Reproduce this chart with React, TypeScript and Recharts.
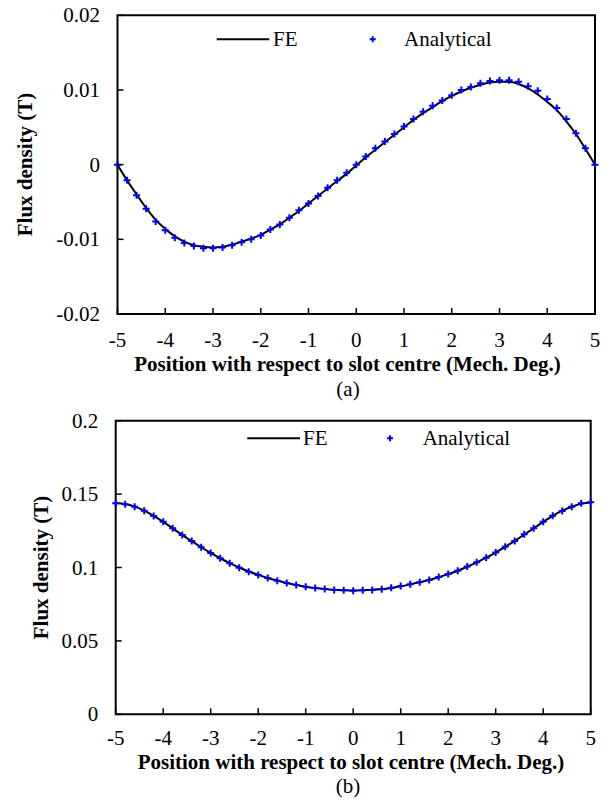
import { ComposedChart, Line, XAxis, YAxis, ReferenceArea } from 'recharts';

const FONT = '"Liberation Serif", "Times New Roman", serif';

// position (mech. deg.)
const positions = [
  -5, -4.8, -4.6, -4.4, -4.2, -4, -3.8, -3.6, -3.4, -3.2, -3, -2.8, -2.6, -2.4, -2.2, -2, -1.8, -1.6, -1.4, -1.2,
  -1, -0.8, -0.6, -0.4, -0.2, 0, 0.2, 0.4, 0.6, 0.8, 1, 1.2, 1.4, 1.6, 1.8, 2, 2.2, 2.4, 2.6, 2.8,
  3, 3.2, 3.4, 3.6, 3.8, 4, 4.2, 4.4, 4.6, 4.8, 5,
];

// (a)
const feA = [
  0, -0.0021, -0.004, -0.0058, -0.0074, -0.0086, -0.0096, -0.0103, -0.0108, -0.011,
  -0.0111, -0.011, -0.0107, -0.0103, -0.0099, -0.0094, -0.0087, -0.008, -0.0071, -0.0062,
  -0.0052, -0.0042, -0.0032, -0.0022, -0.0012, -0.0001,
  0.001, 0.002, 0.003, 0.004, 0.005, 0.006, 0.0069, 0.0077, 0.0085, 0.0092,
  0.0098, 0.0103, 0.0107, 0.011, 0.0111, 0.0111, 0.0108, 0.0102, 0.0094, 0.0084,
  0.0073, 0.0058, 0.0041, 0.0021, 0,
];
const analyticalA = [
  0, -0.0021, -0.0041, -0.0059, -0.0076, -0.0088, -0.0098, -0.0105, -0.0109, -0.0112,
  -0.0112, -0.0111, -0.0108, -0.0104, -0.01, -0.0095, -0.0087, -0.008, -0.0071, -0.0061,
  -0.0052, -0.0042, -0.0031, -0.0021, -0.0011, 0,
  0.0011, 0.0022, 0.0031, 0.0041, 0.0051, 0.0061, 0.0071, 0.0079, 0.0086, 0.0093,
  0.01, 0.0104, 0.0109, 0.0112, 0.0113, 0.0113, 0.0111, 0.0105, 0.0099, 0.0088,
  0.0076, 0.0061, 0.0042, 0.0022, 0,
];

// (b)
const feB = [
  0.144, 0.1433, 0.1415, 0.1388, 0.1352, 0.1311, 0.1267, 0.1222, 0.118, 0.1138,
  0.1099, 0.1063, 0.103, 0.1, 0.0973, 0.095, 0.0929, 0.0911, 0.0895, 0.0881,
  0.0869, 0.086, 0.0853, 0.0848, 0.0845, 0.0843,
  0.0845, 0.0848, 0.0853, 0.0861, 0.0872, 0.0885, 0.0899, 0.0915, 0.0934, 0.0955,
  0.0978, 0.1005, 0.1035, 0.1067, 0.1102, 0.1141, 0.1181, 0.1224, 0.1267, 0.1311,
  0.1352, 0.1387, 0.1414, 0.1434, 0.1442,
];
const analyticalB = [
  0.1437, 0.1431, 0.1414, 0.1387, 0.1351, 0.1312, 0.1267, 0.1221, 0.1181, 0.1138,
  0.1099, 0.1063, 0.1029, 0.0999, 0.0971, 0.0949, 0.0928, 0.091, 0.0894, 0.0881,
  0.0869, 0.086, 0.0854, 0.0847, 0.0845, 0.0842,
  0.0845, 0.0847, 0.0851, 0.0862, 0.0874, 0.0886, 0.0899, 0.0915, 0.0935, 0.0956,
  0.0978, 0.1006, 0.1035, 0.1067, 0.1103, 0.1142, 0.1181, 0.1226, 0.1267, 0.1312,
  0.1353, 0.1385, 0.1414, 0.1437, 0.1444,
];

const xTicks = [-5, -4, -3, -2, -1, 0, 1, 2, 3, 4, 5];
const yTicksA = [-0.02, -0.01, 0, 0.01, 0.02];
const yTicksB = [0, 0.05, 0.1, 0.15, 0.2];

const X_TITLE = 'Position with respect to slot centre (Mech. Deg.)';
const Y_TITLE = 'Flux density (T)';

const cross = (cx: number, cy: number, h: number) =>
  `M${cx - h},${cy}H${cx + h}M${cx},${cy - h}V${cy + h}`;

// biome-ignore lint/suspicious/noExplicitAny: recharts dot props
const renderCross = (p: any) => (
  <path key={`c${p.index}`} d={cross(p.cx, p.cy, 3.5)} stroke="#0000ff" strokeWidth={2} fill="none" />
);

// ticks point inward, like the original
// biome-ignore lint/suspicious/noExplicitAny: recharts tick props
const XTick = (p: any) => (
  <g>
    <line x1={p.x} y1={p.y} x2={p.x} y2={p.y - 6} stroke="#000" strokeWidth={1.5} />
    <text x={p.x} y={p.y + p.labelDy} textAnchor="middle" fontSize={21} fontFamily={FONT} fill="#000">
      {p.payload.value}
    </text>
  </g>
);

// biome-ignore lint/suspicious/noExplicitAny: recharts tick props
const YTick = (p: any) => (
  <g>
    <line x1={p.x} y1={p.y} x2={p.x + 6} y2={p.y} stroke="#000" strokeWidth={1.5} />
    <text x={p.x - 17.5} y={p.y + 7} textAnchor="end" fontSize={21} fontFamily={FONT} fill="#000">
      {p.payload.value}
    </text>
  </g>
);

type Deco = {
  legY: number;
  lineX: [number, number];
  feX: number;
  plusX: number;
  anX: number;
  xTitleX: number;
  xTitleY: number;
  yTitleX: number;
  yTitleY: number;
  capY: number;
  caption: string;
};

const Decorations = ({ d }: { d: Deco }) => (
  <g fontFamily={FONT} fill="#000">
    <line x1={d.lineX[0]} x2={d.lineX[1]} y1={d.legY} y2={d.legY} stroke="#000" strokeWidth={2} />
    <text x={d.feX} y={d.legY + 6.5} fontSize={21}>FE</text>
    <path d={cross(d.plusX, d.legY, 3)} stroke="#0000ff" strokeWidth={2} fill="none" />
    <text x={d.anX} y={d.legY + 6.5} fontSize={21}>Analytical</text>
    <text x={d.xTitleX} y={d.xTitleY} textAnchor="middle" fontSize={21} fontWeight="bold">
      {X_TITLE}
    </text>
    <text
      transform={`translate(${d.yTitleX},${d.yTitleY}) rotate(-90)`}
      textAnchor="middle"
      dominantBaseline="central"
      fontSize={21}
      fontWeight="bold"
    >
      {Y_TITLE}
    </text>
    <text x={348} y={d.capY} textAnchor="middle" fontSize={21}>
      {d.caption}
    </text>
  </g>
);

type PanelProps = {
  top: number;
  height: number;
  fe: number[];
  analytical: number[];
  yTicks: number[];
  plot: { left: number; right: number; top: number; bottom: number };
  labelDy: number;
  deco: Deco;
};

const Panel = ({ top, height, fe, analytical, yTicks, plot, labelDy, deco }: PanelProps) => {
  const data = positions.map((x, i) => ({ x, fe: fe[i], an: analytical[i] }));
  const yMin = yTicks[0];
  const yMax = yTicks[yTicks.length - 1];
  return (
    <div style={{ position: 'absolute', left: 0, top }}>
      <ComposedChart
        width={607}
        height={height}
        data={data}
        margin={{ top: plot.top, right: 607 - plot.right, left: 0, bottom: 0 }}
      >
        <XAxis
          dataKey="x"
          type="number"
          domain={[-5, 5]}
          ticks={xTicks}
          interval={0}
          height={height - plot.bottom}
          axisLine={false}
          tickLine={false}
          tickSize={0}
          tickMargin={0}
          tick={<XTick labelDy={labelDy} />}
        />
        <YAxis
          type="number"
          domain={[yMin, yMax]}
          ticks={yTicks}
          interval={0}
          width={plot.left}
          axisLine={false}
          tickLine={false}
          tickSize={0}
          tickMargin={0}
          tick={<YTick />}
        />
        <ReferenceArea x1={-5} x2={5} y1={yMin} y2={yMax} fill="none" stroke="#000" strokeWidth={2} />
        <Line
          dataKey="fe"
          type="monotone"
          stroke="#000"
          strokeWidth={2}
          dot={false}
          activeDot={false}
          isAnimationActive={false}
        />
        <Line
          dataKey="an"
          stroke="none"
          dot={renderCross}
          activeDot={false}
          isAnimationActive={false}
        />
        <Decorations d={deco} />
      </ComposedChart>
    </div>
  );
};

export default function App() {
  return (
    <div style={{ position: 'absolute', left: 0, top: 0, width: 607, height: 802, background: '#fff' }}>
      <Panel
        top={0}
        height={405}
        fe={feA}
        analytical={analyticalA}
        yTicks={yTicksA}
        plot={{ left: 117.5, right: 595, top: 15.3, bottom: 314 }}
        labelDy={32.5}
        deco={{
          legY: 39.3,
          lineX: [216.7, 269.3],
          feX: 273,
          plusX: 372.7,
          anX: 404,
          xTitleX: 347.5,
          xTitleY: 370.5,
          yTitleX: 25,
          yTitleY: 164.5,
          capY: 396,
          caption: '(a)',
        }}
      />
      <Panel
        top={405}
        height={397}
        fe={feB}
        analytical={analyticalB}
        yTicks={yTicksB}
        plot={{ left: 115.7, right: 590.7, top: 15.7, bottom: 309.3 }}
        labelDy={31}
        deco={{
          legY: 33.2,
          lineX: [247.3, 300],
          feX: 303,
          plusX: 390,
          anX: 422.7,
          xTitleX: 351,
          xTitleY: 364,
          yTitleX: 41,
          yTitleY: 162.5,
          capY: 388,
          caption: '(b)',
        }}
      />
    </div>
  );
}
